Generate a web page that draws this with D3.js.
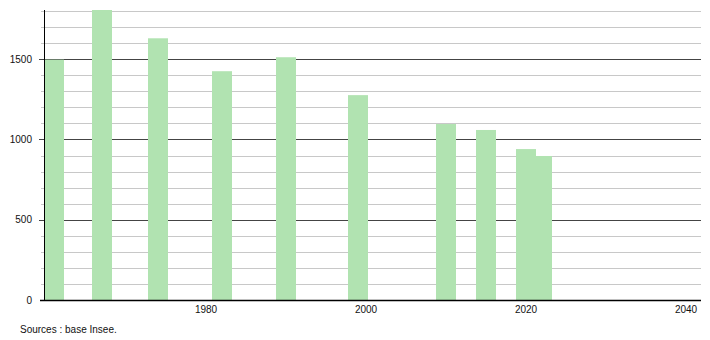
<!DOCTYPE html>
<html>
<head>
<meta charset="utf-8">
<script src="https://cdn.jsdelivr.net/npm/d3@7"></script>
<style>
body { margin: 0; background: #fff; }
text { font-family: "Liberation Sans", Arial, sans-serif; fill: #111; }
</style>
</head>
<body>
<div id="chart"></div>
<script>
// census years and population
var years = [1961, 1967, 1974, 1982, 1990, 1999, 2010, 2015, 2020, 2022];
var pop = [1497, 1810, 1630, 1425, 1512, 1276, 1096, 1059, 940, 897];
var yTicks = [0, 500, 1000, 1500];
var xTicks = [1980, 2000, 2020, 2040];

var W = 710, H = 340;
var pLeft = 44, pRight = 701, pTop = 10, pBottom = 300;

var svg = d3.select("#chart")
  .append("svg")
  .attr("width", W)
  .attr("height", H);

var x = d3.scaleLinear().domain([1960, 2040]).range([46, 686]);
var y = d3.scaleLinear().domain([0, 1800]).range([pBottom, 11]);

svg.append("clipPath")
  .attr("id", "plot")
  .append("rect")
  .attr("x", pLeft)
  .attr("y", pTop)
  .attr("width", pRight - pLeft)
  .attr("height", pBottom - pTop);

// grid every 100, darker every 500
var grid = d3.range(100, 1801, 100);
grid.forEach(function(v) {
  var major = v % 500 == 0;
  svg.append("line")
    .attr("x1", major ? 39 : 41)
    .attr("x2", pRight)
    .attr("y1", Math.round(y(v)) + 0.5)
    .attr("y2", Math.round(y(v)) + 0.5)
    .style("stroke", major ? "#444" : "#c8c8c8")
    .style("stroke-width", "1px");
});

// bars
var bw = x(2.5) - x(0);
svg.append("g")
  .attr("clip-path", "url(#plot)")
  .selectAll("rect")
  .data(years)
  .enter()
  .append("rect")
  .attr("x", function(d) { return x(d) - bw / 2; })
  .attr("y", function(d, i) { return y(pop[i]); })
  .attr("width", bw)
  .attr("height", function(d, i) { return pBottom - y(pop[i]); })
  .style("fill", "#b1e3b1");

// axes lines
svg.append("line")
  .attr("x1", pLeft + 0.5).attr("x2", pLeft + 0.5)
  .attr("y1", pTop).attr("y2", pBottom)
  .style("stroke", "#000").style("stroke-width", "1px");
svg.append("line")
  .attr("x1", 40).attr("x2", pRight)
  .attr("y1", pBottom + 0.5).attr("y2", pBottom + 0.5)
  .style("stroke", "#000").style("stroke-width", "1.5px");

// labels
yTicks.forEach(function(v) {
  svg.append("text")
    .text(v)
    .attr("x", 32)
    .attr("y", y(v) + 3.5)
    .attr("text-anchor", "end")
    .style("font-size", "10px");
});

xTicks.forEach(function(v) {
  svg.append("text")
    .text(v)
    .attr("x", x(v))
    .attr("y", 313)
    .attr("text-anchor", "middle")
    .style("font-size", "10px");
});

svg.append("text")
  .text("Sources : base Insee.")
  .attr("x", 20)
  .attr("y", 333)
  .style("font-size", "10px");
</script>
</body>
</html>
